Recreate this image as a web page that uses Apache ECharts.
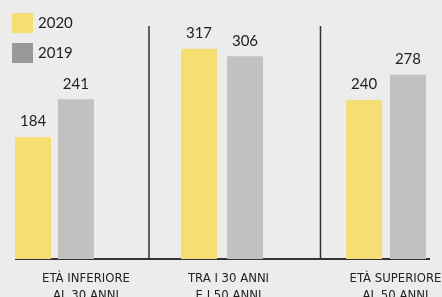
<!DOCTYPE html>
<html>
<head>
<meta charset="utf-8">
<script src="https://cdn.jsdelivr.net/npm/echarts@6/dist/echarts.min.js"></script>
<style>
  html, body { margin: 0; padding: 0; background: #ececec; }
  #main { width: 442px; height: 297px; }
</style>
</head>
<body>
<div id="main"></div>
<script>
var years = ['2020', '2019'];
var categories = ['ETÀ INFERIORE\nAL 30 ANNI', 'TRA I 30 ANNI\nE I 50 ANNI', 'ETÀ SUPERIORE\nAL 50 ANNI'];
var values2020 = [184, 317, 240];
var values2019 = [241, 306, 278];

var myChart = echarts.init(document.getElementById('main'));

// each group sits in its own grid (groups are not evenly spaced)
var grids = [
    { left: 15, width: 79, gap: '19%', pad: 63 },
    { left: 181, width: 82, gap: '28%', pad: 13 },
    { left: 346, width: 80, gap: '22%', pad: 19 }
];

var gridOpt = [], xAxes = [], yAxes = [], series = [];
grids.forEach(function (g, i) {
    gridOpt.push({ left: g.left, width: g.width, top: 27, bottom: 38, outerBoundsMode: 'none', containLabel: false });
    xAxes.push({
        type: 'category',
        gridIndex: i,
        data: [categories[i]],
        axisLine: { show: false },
        axisTick: { show: false },
        axisLabel: {
            interval: 0,
            margin: 11,
            padding: [0, 0, 0, g.pad],
            color: '#222',
            fontFamily: "'Liberation Sans Narrow', 'DejaVu Sans Condensed', 'Roboto Condensed', Roboto, sans-serif",
            fontWeight: 500,
            fontSize: 13,
            lineHeight: 17
        }
    });
    yAxes.push({
        type: 'value', gridIndex: i, min: 0, max: 350,
        show: false, splitLine: { show: false }
    });
    var lab = {
        show: true, position: 'top', distance: 8,
        color: '#222', fontFamily: 'Lato', fontSize: 15
    };
    series.push({
        name: years[0], type: 'bar', xAxisIndex: i, yAxisIndex: i,
        barWidth: 36, barGap: g.gap,
        itemStyle: { color: '#f5df72' },
        label: lab,
        data: [values2020[i]]
    });
    series.push({
        name: years[1], type: 'bar', xAxisIndex: i, yAxisIndex: i,
        barWidth: 36, barGap: g.gap,
        itemStyle: { color: '#c1c1c1' },
        label: lab,
        data: [values2019[i]]
    });
});

var option = {
    backgroundColor: '#ececec',
    animation: false,
    legend: {
        orient: 'vertical',
        left: 12, top: 13,
        padding: 0,
        itemWidth: 21, itemHeight: 20, itemGap: 10,
        icon: 'rect',
        textStyle: { color: '#222', fontFamily: 'Lato', fontSize: 15 },
        data: [
            { name: years[0], itemStyle: { color: '#f5df72' } },
            { name: years[1], itemStyle: { color: '#97999b' } }
        ]
    },
    grid: gridOpt,
    xAxis: xAxes,
    yAxis: yAxes,
    series: series,
    graphic: [
        { type: 'line', shape: { x1: 15, y1: 259, x2: 430, y2: 259 }, style: { stroke: '#333', lineWidth: 2 } },
        { type: 'line', shape: { x1: 149, y1: 26, x2: 149, y2: 259 }, style: { stroke: '#333', lineWidth: 1.5 } },
        { type: 'line', shape: { x1: 320.5, y1: 26, x2: 320.5, y2: 259 }, style: { stroke: '#333', lineWidth: 1.5 } }
    ]
};

myChart.setOption(option);
</script>
</body>
</html>
